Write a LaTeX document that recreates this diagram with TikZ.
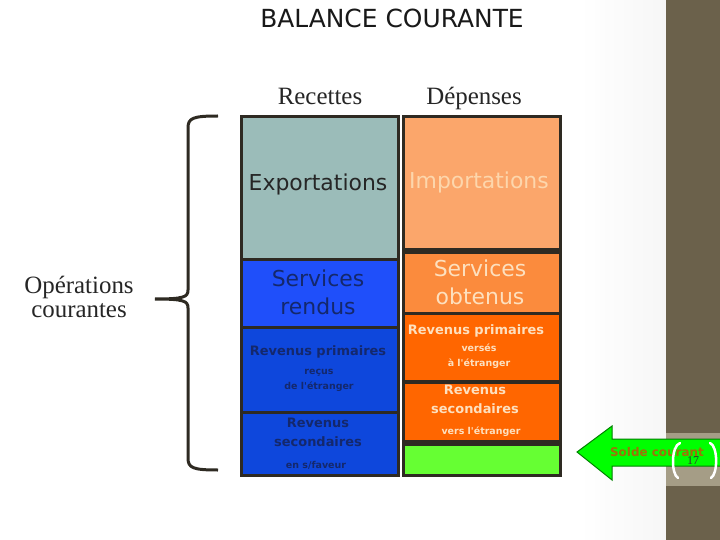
\documentclass[tikz,border=0pt]{standalone}
\usepackage{fontspec}
\setmainfont{Liberation Serif}
\newfontfamily\comic{DejaVu Sans}
\usetikzlibrary{positioning}

\definecolor{boxline}{HTML}{2E2A22}
\definecolor{expfill}{HTML}{9BBCB9}
\definecolor{impfill}{HTML}{FBA66B}
\definecolor{srvblue}{HTML}{1F4FFA}
\definecolor{revblue}{HTML}{0E47DC}
\definecolor{srvorange}{HTML}{FB8B3D}
\definecolor{revorange}{HTML}{FF6600}
\definecolor{soldefill}{HTML}{66FF33}
\definecolor{darktext}{HTML}{14286C}
\definecolor{lighttext}{HTML}{FDE0BF}
\definecolor{stripc}{HTML}{6B614B}
\definecolor{bandc}{HTML}{A59D86}
\definecolor{soldetext}{HTML}{A0700A}

\tikzset{every picture/.append style={x=1bp, y=-1bp}}
\tikzset{
  cell/.style={draw=boxline, line width=3bp, anchor=north west, inner sep=0pt, minimum width=157bp},
  big/.style={font=\comic\fontsize{22}{28}\selectfont, align=center},
  mid/.style={font=\comic\bfseries\fontsize{13}{19}\selectfont, align=center},
  small/.style={font=\comic\bfseries\fontsize{9.5}{15}\selectfont, align=center},
  head/.style={font=\fontsize{25}{25}\selectfont, align=center, text=black!85},
}

\begin{document}
\begin{tikzpicture}
  \useasboundingbox (0,0) rectangle (720,540);
  \fill[white] (0,0) rectangle (720,540);
  \shade[left color=white, right color=gray!7] (580,0) rectangle (666,540);
  \fill[stripc] (666,0) rectangle (720,540);
  \fill[bandc] (666,433) rectangle (720,486);

  \node[font=\comic\fontsize{25}{25}\selectfont, text=black!90] (title) at (392,18) {BALANCE COURANTE};
  \node[head, anchor=base] (rec) at (320,105) {Recettes};
  \node[head, anchor=base] (dep) at (474,105) {Dépenses};

  % recettes
  \node[cell, fill=expfill, minimum height=143bp] (exp) at (240,115) {};
  \node[cell, fill=srvblue, minimum height=68bp] (srvr) at (240,258) {};
  \node[cell, fill=revblue, minimum height=85bp] (revpr) at (240,326) {};
  \node[cell, fill=revblue, minimum height=63bp] (revsr) at (240,411) {};

  % depenses
  \node[cell, fill=impfill, minimum height=133bp] (imp) at (402,115) {};
  \node[cell, fill=srvorange, minimum height=61bp] (srvo) at (402,251) {};
  \node[cell, fill=revorange, minimum height=68bp] (revpd) at (402,312) {};
  \node[cell, fill=revorange, minimum height=59bp] (revsd) at (402,381) {};
  \node[cell, fill=soldefill, minimum height=31bp] (solde) at (402,443) {};

  \node[big, text=black!85] (exptxt) at (318,184) {Exportations};
  \node[big, text=lighttext!90!orange] (imptxt) at (479,182) {Importations};
  \node[big, text=darktext] (srvrtxt) at (318,292) {Services\\rendus};
  \node[big, text=lighttext] (srvotxt) at (480,282) {Services\\obtenus};

  \node[mid, text=darktext] (revprtxt) at (318,352) {Revenus primaires};
  \node[small, text=darktext] (recustxt) at (319,380) {reçus\\de l'étranger};
  \node[mid, text=darktext] (revsrtxt) at (318,432) {Revenus\\secondaires};
  \node[small, text=darktext] (faveur) at (316,465) {en s/faveur};

  \node[mid, text=lighttext] (revpdtxt) at (476,331) {Revenus primaires};
  \node[small, text=lighttext] (verses) at (479,356) {versés\\à l'étranger};
  \node[mid, text=lighttext] (revsdtxt) at (475,399) {Revenus\\secondaires};
  \node[small, text=lighttext] (vers) at (481,432) {vers l'étranger};

  % accolade
  \draw[line width=3bp, boxline] (218,116) .. controls (193,116) and (188,118) .. (188,128) -- (188,290)
    .. controls (188,297) and (184,299) .. (155,299)
    .. controls (184,299) and (188,301) .. (188,308) -- (188,458)
    .. controls (188,468) and (193,470) .. (218,470);
  \node[head] (oper) at (79,297) {Opérations\\courantes};

  % solde courant
  \draw[fill=green, draw=green!50!black, line width=1bp] (577,452) -- (612,426) -- (612,439) -- (721,439)
    -- (721,466) -- (612,466) -- (612,480) -- cycle;
  \node[font=\comic\bfseries\fontsize{12}{12}\selectfont, text=soldetext] (soldetxt) at (657,452) {Solde courant};
  \draw[white, line width=2.5bp, line cap=round] (680,443) .. controls (671,446) and (671,474) .. (678,478);
  \draw[white, line width=2.5bp, line cap=round] (710,443) .. controls (718,446) and (718,474) .. (711,478);
  \node[font=\fontsize{12}{12}\selectfont, text=black!80] (page) at (693,461) {17};
\end{tikzpicture}
\end{document}
